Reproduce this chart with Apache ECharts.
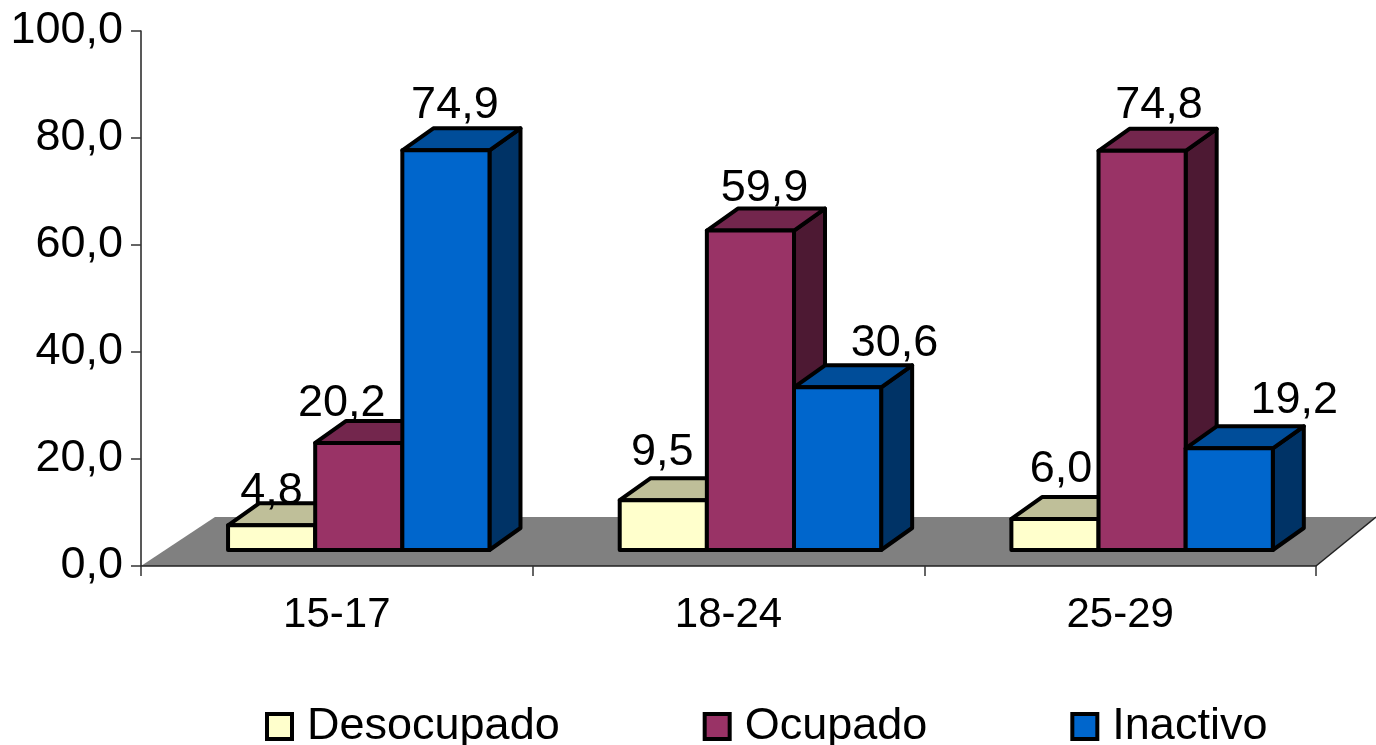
<!DOCTYPE html>
<html>
<head>
<meta charset="utf-8">
<style>
  html, body { margin: 0; padding: 0; background: #fff; }
  #chart { width: 1376px; height: 745px; }
</style>
</head>
<body>
<div id="chart"></div>
<script src="https://cdn.jsdelivr.net/npm/echarts@6/dist/echarts.min.js"></script>
<script>
const categories = ['15-17', '18-24', '25-29']
const desocupado = [4.8, 9.5, 6.0]
const ocupado = [20.2, 59.9, 74.8]
const inactivo = [74.9, 30.6, 19.2]

const FONT = '"Liberation Sans", Arial, sans-serif'
const FONT_SIZE = 45
const comma = (v) => v.toFixed(1).replace('.', ',')

// fake 3d box look
const DEPTH_X = 31
const DEPTH_Y = 22
const LIFT = 16 // bars stand on the floor, above the axis line

// hand placed labels in the original, [dx, dy] from the bar top
const labelNudge = {
  Desocupado: [[0, -12], [-1, -26], [6, -27]],
  Ocupado: [[-17, -17], [14, -20], [17, -23]],
  Inactivo: [[9, -23], [57, -22], [65, -26]]
}

const boxSeries = (name, values, index, front, top, side) => ({
  name,
  type: 'custom',
  z: 2,
  clip: false,
  itemStyle: { color: front, borderColor: '#000', borderWidth: 4 },
  encode: { x: 0, y: 1 },
  data: values.map((v, i) => [i, v]),
  renderItem: (params, api) => {
    const cat = api.value(0)
    const val = api.value(1)
    const band = api.size([1, 0])[0]
    const barW = band * 0.2225
    const base = api.coord([cat, 0])
    const x0 = base[0] + band * 0.056 + (index - 1.5) * barW
    const x1 = x0 + barW
    const y0 = base[1] - LIFT
    const y1 = api.coord([cat, val])[1] - LIFT + 1
    const line = { stroke: '#000', lineWidth: 4, lineJoin: 'round' }
    const nudge = labelNudge[name][params.dataIndex]
    return {
      type: 'group',
      children: [
        {
          type: 'polygon',
          shape: { points: [[x1, y0], [x1, y1], [x1 + DEPTH_X, y1 - DEPTH_Y], [x1 + DEPTH_X, y0 - DEPTH_Y]] },
          style: { fill: side, ...line }
        },
        {
          type: 'polygon',
          shape: { points: [[x0, y1], [x1, y1], [x1 + DEPTH_X, y1 - DEPTH_Y], [x0 + DEPTH_X, y1 - DEPTH_Y]] },
          style: { fill: top, ...line }
        },
        {
          type: 'rect',
          shape: { x: x0, y: y1, width: barW, height: y0 - y1 },
          style: { fill: front, ...line }
        },
        {
          type: 'text',
          z2: 100,
          style: {
            text: comma(val),
            x: (x0 + x1) / 2 + nudge[0],
            y: y1 - DEPTH_Y + nudge[1],
            align: 'center',
            verticalAlign: 'middle',
            fill: '#000',
            font: FONT_SIZE + 'px ' + FONT
          }
        }
      ]
    }
  }
})

const floorSeries = {
  name: 'floor',
  type: 'custom',
  z: 0,
  clip: false,
  silent: true,
  data: [[0, 0]],
  encode: { x: 0, y: 1 },
  renderItem: (params) => {
    const g = params.coordSys
    const bottom = g.y + g.height
    const right = g.x + g.width
    return {
      type: 'group',
      children: [
        {
          type: 'polygon',
          shape: { points: [[g.x, bottom], [g.x + 74, bottom - 49], [right + 60, bottom - 49], [right, bottom]] },
          style: { fill: '#808080' }
        },
        {
          type: 'polyline',
          shape: { points: [[right, bottom], [right + 60, bottom - 49]] },
          style: { stroke: '#222', lineWidth: 1.5, fill: null }
        }
      ]
    }
  }
}

const chart = echarts.init(document.getElementById('chart'))
chart.setOption({
  animation: false,
  backgroundColor: '#fff',
  grid: { left: 141, right: 60, top: 31, bottom: 179 },
  legend: {
    data: [
      { name: 'Desocupado', icon: 'rect' },
      { name: 'Ocupado', icon: 'rect' },
      { name: 'Inactivo', icon: 'rect' }
    ],
    left: 265,
    top: 704,
    itemWidth: 25,
    itemHeight: 25,
    itemGap: 143,
    selectedMode: false,
    padding: 0,
    itemStyle: { borderColor: '#000', borderWidth: 4 },
    textStyle: { fontFamily: FONT, fontSize: FONT_SIZE, color: '#000', padding: [0, 0, 0, 10] }
  },
  xAxis: {
    type: 'category',
    data: categories,
    z: 1,
    axisLine: { lineStyle: { color: '#222', width: 1.5 } },
    axisTick: { show: true, length: 10, lineStyle: { color: '#333', width: 1.5 } },
    axisLabel: { color: '#000', fontFamily: FONT, fontSize: 42, margin: 28 }
  },
  yAxis: {
    type: 'value',
    min: 0,
    max: 100,
    interval: 20,
    z: 1,
    splitLine: { show: false },
    axisLine: { show: true, lineStyle: { color: '#222', width: 1.5 } },
    axisTick: { show: true, length: 10, lineStyle: { color: '#333', width: 1.5 } },
    axisLabel: { color: '#000', fontFamily: FONT, fontSize: FONT_SIZE, margin: 18, formatter: comma }
  },
  series: [
    floorSeries,
    boxSeries('Desocupado', desocupado, 0, '#FFFFCC', '#BFBF99', '#80805F'),
    boxSeries('Ocupado', ocupado, 1, '#993366', '#73264D', '#4D1933'),
    boxSeries('Inactivo', inactivo, 2, '#0066CC', '#004D99', '#003366')
  ]
})
</script>
</body>
</html>
